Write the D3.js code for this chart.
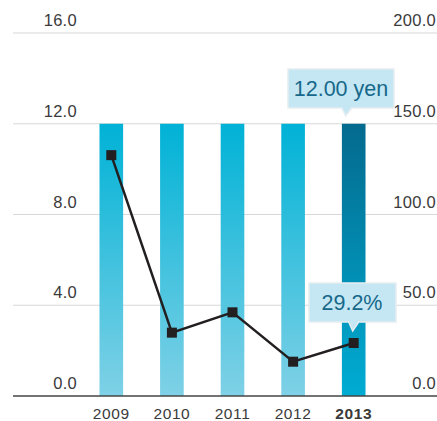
<!DOCTYPE html>
<html>
<head>
<meta charset="utf-8">
<script src="https://cdn.jsdelivr.net/npm/d3@7"></script>
<style>
  body { margin: 0; background: #fff; }
  svg { display: block; font-family: "Liberation Sans", Arial, sans-serif; }
</style>
</head>
<body>
<svg id="chart" width="437" height="421"></svg>
<script>
const years = ["2009", "2010", "2011", "2012", "2013"];
const dividend = [12, 12, 12, 12, 12];          // yen per share (bars, left axis)
const payout = [132.7, 34.9, 46.1, 18.9, 29.2]; // payout ratio % (line, right axis)
const leftTicks = [0, 4, 8, 12, 16];
const rightTicks = [0, 50, 100, 150, 200];
const dividendLabel = "12.00 yen";
const payoutLabel = "29.2%";

const W = 437, H = 421;
const svg = d3.select("#chart");

const x = d3.scaleBand().domain(years).range([81, 384]).paddingInner(0.61).paddingOuter(0.305);
const yL = d3.scaleLinear().domain([0, 16]).range([396, 33]);
const yR = d3.scaleLinear().domain([0, 200]).range([396, 33]);

// gradients
const defs = svg.append("defs");
function grad(id, top, bottom) {
  const g = defs.append("linearGradient").attr("id", id)
    .attr("gradientUnits", "userSpaceOnUse")
    .attr("x1", 0).attr("x2", 0).attr("y1", yL(12)).attr("y2", yL(0));
  g.append("stop").attr("offset", 0).attr("stop-color", top);
  g.append("stop").attr("offset", 1).attr("stop-color", bottom);
}
grad("gLight", "#00b2d6", "#7fd1e6");
grad("gDark", "#046a8e", "#00acd3");

// gridlines
svg.append("g").selectAll("line").data(leftTicks.slice(1)).join("line")
  .attr("x1", 13).attr("x2", W)
  .attr("y1", d => yL(d)).attr("y2", d => yL(d))
  .attr("stroke", "#d8d8d8").attr("stroke-width", 1.2);

// left tick labels
svg.append("g").selectAll("text").data(leftTicks).join("text")
  .attr("x", 77).attr("y", d => yL(d) - 7)
  .attr("text-anchor", "end").attr("font-size", 16.5).attr("letter-spacing", 0.3).attr("fill", "#3a3a3a")
  .text(d => d.toFixed(1));

// right tick labels
svg.append("g").selectAll("text").data(rightTicks).join("text")
  .attr("x", 436).attr("y", d => yR(d) - 7)
  .attr("text-anchor", "end").attr("font-size", 16.5).attr("letter-spacing", 0.3).attr("fill", "#3a3a3a")
  .text(d => d.toFixed(1));

// bars
svg.append("g").selectAll("rect").data(dividend).join("rect")
  .attr("x", (d, i) => x(years[i]))
  .attr("width", x.bandwidth())
  .attr("y", d => yL(d))
  .attr("height", d => yL(0) - yL(d))
  .attr("fill", (d, i) => i === years.length - 1 ? "url(#gDark)" : "url(#gLight)");

// baseline
svg.append("line")
  .attr("x1", 13).attr("x2", W).attr("y1", yL(0)).attr("y2", yL(0))
  .attr("stroke", "#444").attr("stroke-width", 1.5);

// x labels
svg.append("g").selectAll("text").data(years).join("text")
  .attr("x", d => x(d) + x.bandwidth() / 2).attr("y", 419)
  .attr("text-anchor", "middle").attr("font-size", 15.5).attr("letter-spacing", 0.6).attr("fill", "#3a3a3a")
  .attr("font-weight", (d, i) => i === years.length - 1 ? "bold" : "normal")
  .text(d => d);

// payout line
const cx = i => x(years[i]) + x.bandwidth() / 2;
svg.append("path").datum(payout)
  .attr("d", d3.line().x((d, i) => cx(i)).y(d => yR(d)))
  .attr("fill", "none").attr("stroke", "#231f20").attr("stroke-width", 2.5);
svg.append("g").selectAll("rect").data(payout).join("rect")
  .attr("x", (d, i) => cx(i) - 5).attr("y", d => yR(d) - 5)
  .attr("width", 10).attr("height", 10).attr("fill", "#231f20");

// callouts
function callout(bx, by, bw, bh, px, tip, label, tx) {
  const g = svg.append("g");
  const path = `M${bx},${by} H${bx + bw} V${by + bh} H${px + 6} L${px},${tip} L${px - 4},${by + bh} H${bx} Z`;
  g.append("path").attr("d", path)
    .attr("fill", "#c4e7f3").attr("stroke", "#e6eef1").attr("stroke-width", 1.5);
  g.append("text").attr("x", tx).attr("y", by + bh / 2 + 7.5)
    .attr("text-anchor", "middle").attr("font-size", 21.5).attr("fill", "#17688a")
    .text(label);
}
const last = years.length - 1;
callout(288, 69, 106, 39, cx(last) - 8, yL(dividend[last]) - 8, dividendLabel, 341);
callout(309, 283, 87, 39, cx(last) - 1, yR(payout[last]) - 12, payoutLabel, 352);
</script>
</body>
</html>
